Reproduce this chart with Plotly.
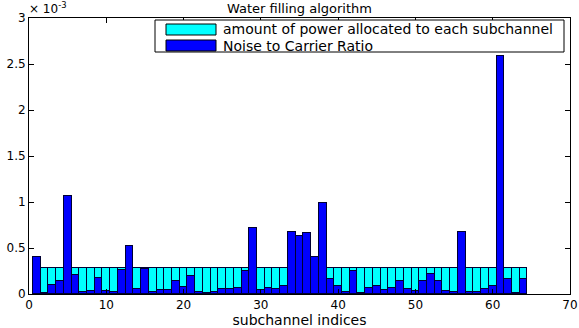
import plotly.graph_objects as go

# subchannel indices 1..64
subchannels = list(range(1, 65))
# Noise to Carrier Ratio (units of 1e-3)
noise_e3 = [0.40, 0.015, 0.10, 0.145, 1.06, 0.21, 0.02, 0.035, 0.17, 0.035,
            0.02, 0.26, 0.52, 0.05, 0.275, 0.02, 0.04, 0.04, 0.14, 0.08,
            0.20, 0.02, 0.015, 0.02, 0.055, 0.055, 0.07, 0.25, 0.72, 0.045,
            0.07, 0.055, 0.085, 0.67, 0.63, 0.66, 0.40, 0.985, 0.16, 0.09,
            0.02, 0.25, 0.015, 0.07, 0.085, 0.04, 0.07, 0.14, 0.05, 0.035,
            0.145, 0.22, 0.14, 0.035, 0.025, 0.67, 0.02, 0.02, 0.05, 0.085,
            2.59, 0.16, 0.015, 0.16]
water_level_e3 = 0.28
power_e3 = [max(water_level_e3 - n, 0.0) for n in noise_e3]

x_ticks = [0, 10, 20, 30, 40, 50, 60, 70]
y_ticks = [0, 0.5, 1, 1.5, 2, 2.5, 3]
y_tick_text = ["0", "0.5", "1", "1.5", "2", "2.5", "3"]
legend_labels = ["amount of power allocated to each subchannel", "Noise to Carrier Ratio"]
CYAN = "#00FFFF"
BLUE = "#0000FF"

W, H = 579, 328
L, R, T, B = 29, 9, 18, 34
pw, ph = W - L - R, H - T - B

def px(xp):
    return (xp - L) / pw

def py(yp):
    return (H - B - yp) / ph

FONT = "DejaVu Sans"

fig = go.Figure()
fig.add_trace(go.Bar(x=subchannels, y=noise_e3, name=legend_labels[1],
                     marker=dict(color=BLUE, line=dict(color="#000033", width=1)),
                     width=1, showlegend=False))
fig.add_trace(go.Bar(x=subchannels, y=power_e3, name=legend_labels[0],
                     marker=dict(color=CYAN, line=dict(color="#000033", width=1)),
                     width=1, showlegend=False))

axis_common = dict(showline=True, linecolor="black", linewidth=1, mirror="ticks",
                   ticks="inside", ticklen=5, tickcolor="black", showgrid=False,
                   zeroline=False, tickfont=dict(family=FONT, size=12, color="black"))
fig.update_xaxes(range=[0, 70], tickvals=x_ticks, **axis_common,
                 title=dict(text="subchannel indices", font=dict(family=FONT, size=14, color="black"),
                            standoff=1))
fig.update_yaxes(range=[0, 3], tickvals=y_ticks, ticktext=y_tick_text, **axis_common)

# custom MATLAB-style legend
shapes = [
    dict(type="rect", xref="paper", yref="paper", x0=px(155), x1=px(564), y0=py(20), y1=py(52),
         line=dict(color="black", width=1), fillcolor="white", layer="above"),
    dict(type="rect", xref="paper", yref="paper", x0=px(166), x1=px(216), y0=py(24), y1=py(35),
         line=dict(color="black", width=1), fillcolor=CYAN, layer="above"),
    dict(type="rect", xref="paper", yref="paper", x0=px(166), x1=px(216), y0=py(40), y1=py(51),
         line=dict(color="black", width=1), fillcolor=BLUE, layer="above"),
]
annotations = [
    dict(xref="paper", yref="paper", x=px(221), y=py(29.5), text=legend_labels[0], showarrow=False,
         xanchor="left", yanchor="middle", font=dict(family=FONT, size=14, color="black")),
    dict(xref="paper", yref="paper", x=px(221), y=py(45.5), text=legend_labels[1], showarrow=False,
         xanchor="left", yanchor="middle", font=dict(family=FONT, size=14, color="black")),
    dict(xref="paper", yref="paper", x=px(27), y=py(8), text="× 10<sup>-3</sup>", showarrow=False,
         xanchor="left", yanchor="middle", font=dict(family=FONT, size=12, color="black")),
    dict(xref="paper", yref="paper", x=0.5, y=py(8), text="Water filling algorithm", showarrow=False,
         xanchor="center", yanchor="middle", font=dict(family=FONT, size=13, color="black")),
]

fig.update_layout(width=W, height=H, margin=dict(l=L, r=R, t=T, b=B, autoexpand=False),
                  barmode="stack", bargap=0, plot_bgcolor="white", paper_bgcolor="white",
                  shapes=shapes, annotations=annotations, showlegend=False)

fig.write_html("out.html")
